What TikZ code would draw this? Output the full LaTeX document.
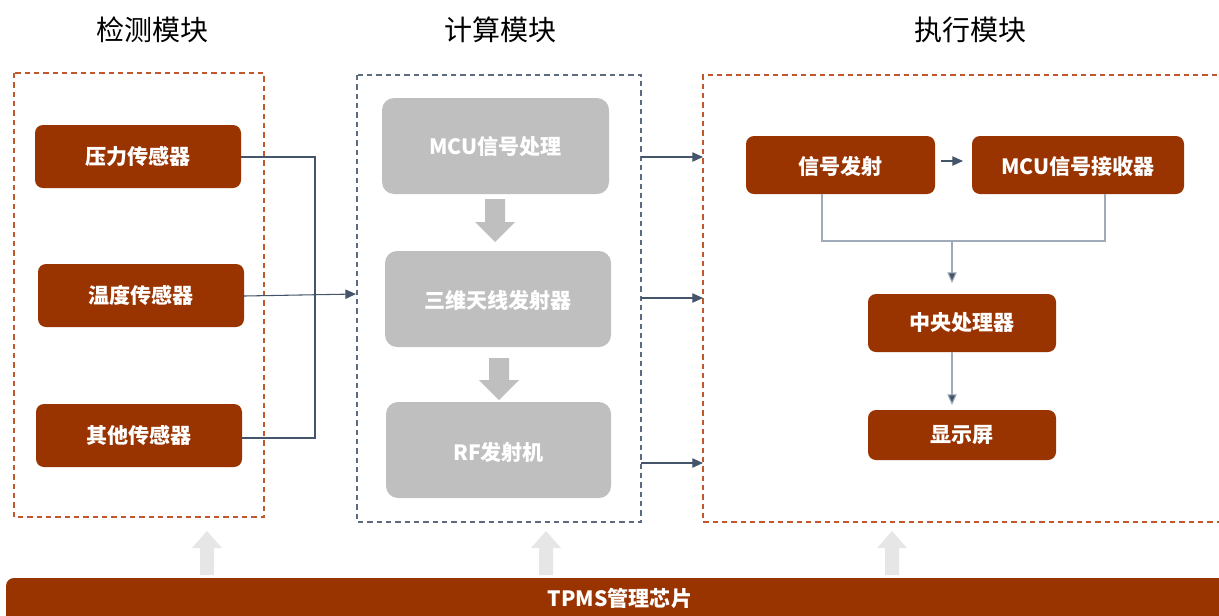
\documentclass[tikz,border=0pt]{standalone}
\usepackage{fontspec}
\setmainfont{Noto Sans CJK SC}
\newfontfamily\cjk{Noto Sans CJK SC}
\usetikzlibrary{arrows.meta}
\definecolor{brick}{HTML}{993300}
\definecolor{dashor}{HTML}{C0582B}
\definecolor{dashbl}{HTML}{5D6B80}
\definecolor{conn}{HTML}{44546A}
\definecolor{connl}{HTML}{A0AAB8}
\definecolor{graybox}{HTML}{BFBFBF}
\definecolor{lightarr}{HTML}{E6E6E6}
\tikzset{
  redbox/.style={fill=brick, rounded corners=8*0.75pt},
  graynode/.style={fill=graybox, rounded corners=12*0.75pt},
  lbl/.style={text=white, font=\cjk\bfseries\fontsize{15.8}{18}\selectfont},
  title/.style={font=\cjk\fontsize{21}{24}\selectfont, text=black},
  dashframe/.style={dashed, dash pattern=on 4pt off 3pt, line width=0.8pt},
  conline/.style={draw=conn, line width=0.8pt},
  arr/.style={conline, -{Triangle[length=8pt,width=7pt]}},
  larr/.style={draw=connl, line width=0.8pt, -{Triangle[length=8pt,width=7pt,fill=conn]}}
}
\begin{document}
\begin{tikzpicture}[x=0.75pt,y=-0.75pt]
\useasboundingbox (0,0) rectangle (1219,615);
% titles
\node[title] (t1) at (152,30) {检测模块};
\node[title] (t2) at (500,30) {计算模块};
\node[title] (t3) at (970,30) {执行模块};
% frames
\draw[dashframe, draw=dashor] (14,73) rectangle (264,517);
\draw[dashframe, draw=dashbl] (357,75) rectangle (641,522);
\draw[dashframe, draw=dashor] (1222,522) -- (703,522) -- (703,75) -- (1222,75);
% sensors
\path[redbox] (35,125) rectangle (241,188);
\node[lbl] (s1) at (138,156.5) {压力传感器};
\coordinate (s1r) at (241,157);
\path[redbox] (38,264) rectangle (244,327);
\node[lbl] (s2) at (141,295.5) {温度传感器};
\coordinate (s2r) at (244,296);
\path[redbox] (36,404) rectangle (242,467);
\node[lbl] (s3) at (139,435.5) {其他传感器};
\coordinate (s3r) at (242,438);
\coordinate (mid) at (315,157);
\coordinate (mid2) at (315,438);
\coordinate (m2l) at (356,294);
\draw[conline] (s1r) -- (mid) -- (mid2) -- (s3r);
\draw[arr] (s2r) -- (m2l);
% gray boxes
\path[graynode] (382,98) rectangle (609,194);
\node[lbl] (g1) at (495.5,147) {MCU信号处理};
\path[graynode] (385,251) rectangle (611,347);
\node[lbl] (g2) at (498,300) {三维天线发射器};
\path[graynode] (386,402) rectangle (611,498);
\node[lbl] (g3) at (498.5,452) {RF发射机};
% block arrows
\fill[graybox] (485,199) -- (505,199) -- (505,222) -- (515,222) -- (495,242) -- (475,222) -- (485,222) -- cycle;
\fill[graybox] (489,358) -- (509,358) -- (509,380) -- (519,380) -- (499,400) -- (479,380) -- (489,380) -- cycle;
% arrows to right
\coordinate (a1) at (641,157); \coordinate (b1) at (703,157);
\coordinate (a2) at (641,298); \coordinate (b2) at (703,298);
\coordinate (a3) at (641,463); \coordinate (b3) at (703,463);
\draw[arr] (a1) -- (b1);
\draw[arr] (a2) -- (b2);
\draw[arr] (a3) -- (b3);
% right boxes
\path[redbox] (746,136) rectangle (935,194);
\node[lbl] (r1) at (840.5,166) {信号发射};
\path[redbox] (972,136) rectangle (1184,194);
\node[lbl] (r2) at (1078,166) {MCU信号接收器};
\coordinate (r1r) at (941,161); \coordinate (r2l) at (963,161);
\draw[arr] (r1r) -- (r2l);
\coordinate (r1b) at (822,194); \coordinate (r2b) at (1105,194);
\coordinate (j1) at (822,241); \coordinate (j2) at (1105,241);
\coordinate (jm) at (952,241);
\draw[draw=connl, line width=0.8pt] (r1b) -- (j1) -- (j2) -- (r2b);
\path[redbox] (868,294) rectangle (1056,352);
\node[lbl] (c1) at (962,323) {中央处理器};
\coordinate (c1t) at (952,283); \coordinate (c1b) at (952,352);
\draw[larr] (jm) -- (c1t);
\path[redbox] (868,410) rectangle (1056,460);
\node[lbl] (d1) at (962,435) {显示屏};
\coordinate (d1t) at (952,405);
\draw[larr] (c1b) -- (d1t);
% up arrows
\foreach \x in {207,546,892}{
  \fill[lightarr] (\x-7,575) -- (\x-7,548) -- (\x-15,548) -- (\x,531) -- (\x+15,548) -- (\x+7,548) -- (\x+7,575) -- cycle;
}
% bottom bar
\path[fill=brick, rounded corners=8*0.75pt] (6,578) rectangle (1230,625);
\node[lbl] (bar) at (620,598) {TPMS管理芯片};
\end{tikzpicture}
\end{document}
